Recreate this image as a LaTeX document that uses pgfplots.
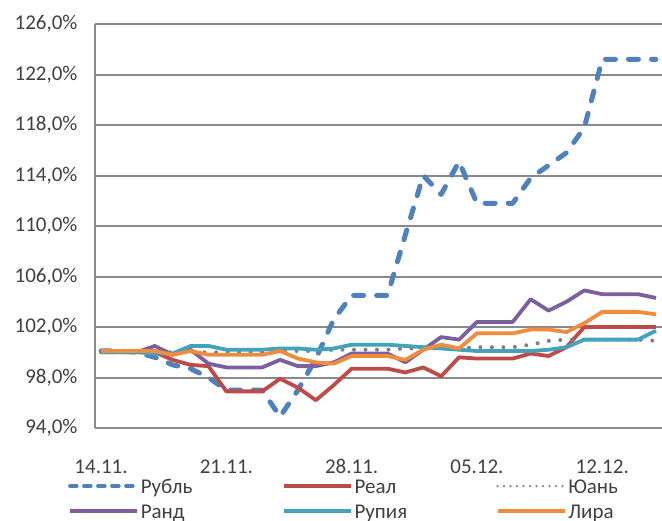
\documentclass[border=0pt]{standalone}
\usepackage{fontspec}
\setmainfont{Carlito}
\usepackage{pgfplots}
\usepackage{pgfplotstable}
\pgfplotsset{compat=1.18}

\definecolor{rub}{HTML}{4F81BD}
\definecolor{real}{HTML}{BE4B48}
\definecolor{yuan}{HTML}{808080}
\definecolor{rand}{HTML}{7D5FA0}
\definecolor{rup}{HTML}{43A2BC}
\definecolor{lira}{HTML}{F08C3C}
\definecolor{gridc}{HTML}{8A8A8A}
\definecolor{txt}{HTML}{404040}

% index 0 = 14.11., one row per day
\pgfplotstableread{
i  rub   real  yuan  rand  rup   lira
0  100.1 100.1 100.0 100.0 100.0 100.1
1  100.1 100.1 100.0 100.0 100.0 100.1
2  100.0 100.1 100.0 100.0 100.0 100.1
3  99.6  100.0 100.0 100.5 99.9  100.1
4  99.0  99.4  100.0 99.8  99.9  99.8
5  98.7  99.0  100.0 100.2 100.5 100.1
6  98.0  98.9  100.0 99.1  100.5 99.8
7  97.0  96.9  100.0 98.8  100.2 99.8
8  97.0  96.9  100.0 98.8  100.2 99.8
9  97.0  96.9  100.0 98.8  100.2 99.8
10 94.9  97.9  100.1 99.4  100.3 100.1
11 97.0  97.2  100.1 98.9  100.3 99.5
12 99.5  96.2  100.1 98.9  100.2 99.2
13 102.6 97.4  100.2 99.2  100.3 99.1
14 104.5 98.7  100.2 99.9  100.6 99.7
15 104.5 98.7  100.2 99.9  100.6 99.7
16 104.5 98.7  100.2 99.9  100.6 99.7
17 109.3 98.4  100.3 99.2  100.5 99.4
18 114.0 98.8  100.3 100.2 100.4 100.2
19 112.5 98.1  100.3 101.2 100.3 100.6
20 115.1 99.6  100.3 101.0 100.2 100.3
21 111.8 99.5  100.4 102.4 100.1 101.5
22 111.8 99.5  100.4 102.4 100.1 101.5
23 111.8 99.5  100.4 102.4 100.1 101.5
24 113.8 99.9  100.6 104.2 100.1 101.8
25 114.8 99.7  100.9 103.3 100.2 101.8
26 115.8 100.4 101.0 104.0 100.4 101.6
27 117.8 102.0 101.0 104.9 101.0 102.3
28 123.2 102.0 101.0 104.6 101.0 103.2
29 123.2 102.0 101.0 104.6 101.0 103.2
30 123.2 102.0 101.0 104.6 101.0 103.2
31 123.2 102.0 100.9 104.3 101.7 103.0
}\rates

\newcommand{\legtext}[1]{\makebox[141pt][l]{#1}}

\begin{document}
\begin{tikzpicture}
\begin{axis}[
  scale only axis,
  width=567pt, height=404pt,
  xmin=-0.34, xmax=31.34,
  ymin=94, ymax=126,
  ytick={94,98,...,126},
  xtick={0,7,14,21,28},
  xticklabels={14.11.,21.11.,28.11.,05.12.,12.12.},
  axis lines*=left,
  axis line style={draw=gridc, line width=2pt},
  ymajorgrids,
  grid style={draw=gridc, line width=2pt},
  major tick length=0pt,
  tick label style={font=\fontsize{21}{25}\selectfont, text=txt},
  xticklabel style={anchor=base, yshift=-45pt},
  yticklabel style={xshift=-14pt,
    /pgf/number format/.cd, fixed, fixed zerofill, precision=1, use comma,
    assume math mode=true},
  yticklabel={\pgfmathprintnumber{\tick}\%},
  legend columns=3,
  legend cell align=left,
  legend image code/.code={\draw[#1] (0pt,0pt) -- (67pt,0pt); \path (69pt,0pt);},
  legend style={draw=none, fill=none, inner sep=0pt, outer sep=0pt,
    at={(rel axis cs:0,0)}, anchor=north west, xshift=-27pt, yshift=-48pt,
    row sep=5pt, column sep=0pt,
    nodes={inner sep=0pt, text height=17pt, text depth=3pt,
      font=\fontsize{21}{25}\selectfont, text=txt}},
  every axis plot/.append style={line join=round},
]
\addplot[rub, line width=5pt, line cap=round, dash pattern=on 10pt off 13pt,
  legend image post style={line width=3.5pt, dash pattern=on 7pt off 7pt}] table[x=i, y=rub] {\rates};
\addplot[real, line width=3.8pt] table[x=i, y=real] {\rates};
\addplot[yuan, line width=4pt, line cap=round, dash pattern=on 0pt off 11.5pt,
  legend image post style={line width=2.5pt, dash pattern=on 0pt off 6.5pt}] table[x=i, y=yuan] {\rates};
\addplot[rand, line width=3.8pt] table[x=i, y=rand] {\rates};
\addplot[rup, line width=3.8pt] table[x=i, y=rup] {\rates};
\addplot[lira, line width=3.8pt] table[x=i, y=lira] {\rates};
\legend{\legtext{Рубль}, \legtext{Реал}, \legtext{Юань}, \legtext{Ранд}, \legtext{Рупия}, \legtext{Лира}}
\coordinate (SW) at (rel axis cs:0,0);
\coordinate (NE) at (rel axis cs:1,1);
\end{axis}
\pgfresetboundingbox
\path ([xshift=-95pt, yshift=-92pt]SW) rectangle ([yshift=24pt]NE);
\end{tikzpicture}
\end{document}
